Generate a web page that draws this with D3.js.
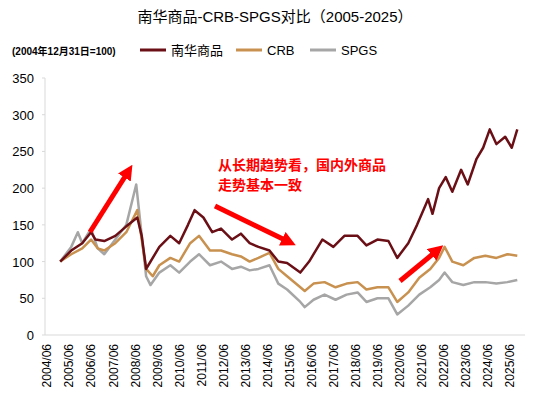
<!DOCTYPE html>
<html><head><meta charset="utf-8">
<script src="https://cdn.jsdelivr.net/npm/d3@7"></script>
<style>body{margin:0;background:#fff;font-family:"Liberation Sans",Arial,"Noto Sans CJK SC",sans-serif;}</style>
</head><body><svg id="c" width="550" height="409"></svg>
<script>
// year (decimal) / value
var nhYears = [2005,2005.5,2006,2006.4,2006.6,2007,2007.5,2008,2008.5,2008.7,2008.9,2009,2009.5,2010,2010.4,2010.8,2011.1,2011.5,2011.9,2012.3,2012.8,2013.2,2013.6,2014,2014.5,2014.9,2015.3,2015.9,2016.3,2016.9,2017.4,2017.9,2018.5,2018.9,2019.4,2019.9,2020.3,2020.8,2021.2,2021.7,2021.9,2022.2,2022.5,2022.8,2023.2,2023.5,2023.9,2024.2,2024.5,2024.8,2025.2,2025.5,2025.75];
var nhVals = [100,115,125,140,130,128,135,148,160,135,90,95,120,135,125,150,170,160,140,145,130,138,125,120,115,100,98,85,100,130,120,135,135,122,130,128,105,125,150,185,165,200,215,195,225,205,240,255,280,260,270,255,280];
var crbYears = [2005,2005.5,2006,2006.4,2006.7,2007,2007.5,2008,2008.5,2008.9,2009.2,2009.5,2010,2010.4,2010.9,2011.3,2011.8,2012.3,2012.8,2013.2,2013.6,2014,2014.5,2014.9,2015.3,2015.9,2016.1,2016.5,2017,2017.5,2018,2018.5,2018.9,2019.4,2019.9,2020.3,2020.8,2021.3,2021.8,2022.2,2022.45,2022.8,2023.3,2023.8,2024.3,2024.8,2025.3,2025.75];
var crbVals = [100,110,118,130,118,115,125,140,170,90,80,95,105,100,125,135,115,115,110,107,100,105,112,90,80,65,60,70,72,65,70,72,62,65,65,45,58,78,90,105,120,100,95,105,108,105,110,108];
var spYears = [2005,2005.5,2005.8,2006,2006.4,2006.7,2007,2007.5,2008,2008.45,2008.9,2009.1,2009.5,2010,2010.4,2010.9,2011.3,2011.8,2012.3,2012.8,2013.2,2013.6,2014,2014.5,2014.9,2015.3,2015.9,2016.1,2016.5,2017,2017.5,2018,2018.5,2018.9,2019.4,2019.9,2020.3,2020.8,2021.3,2021.8,2022.2,2022.45,2022.8,2023.3,2023.8,2024.3,2024.8,2025.3,2025.75];
var spVals = [100,120,140,125,145,118,110,130,150,205,80,68,85,95,85,100,110,95,100,90,93,88,90,95,70,62,45,38,48,55,48,55,58,45,50,50,28,40,55,65,75,85,72,68,72,72,70,72,75];
var tickYears = d3.range(2004, 2026);
var yTicks = [0,50,100,150,200,250,300,350];
var seriesNames = ["南华商品","CRB","SPGS"];
var seriesColors = ["#6b0f16","#c8914f","#a6a6a6"];

var svg = d3.select("#c");
var x = d3.scaleLinear().domain([2004.4, 2026.1]).range([47, 525]);
var y = d3.scaleLinear().domain([0, 350]).range([335, 78]);

svg.append("text").attr("x", 275).attr("y", 22).attr("text-anchor", "middle")
  .attr("font-size", 15).text("南华商品-CRB-SPGS对比（2005-2025）");
svg.append("text").attr("x", 12).attr("y", 55).attr("font-size", 10).attr("font-weight", "bold")
  .text("(2004年12月31日=100)");
var legX = [140, 236, 310];
seriesNames.forEach(function(n, i) {
  svg.append("line").attr("x1", legX[i]).attr("x2", legX[i] + 26).attr("y1", 50).attr("y2", 50)
    .attr("stroke", seriesColors[i]).attr("stroke-width", 3);
  svg.append("text").attr("x", legX[i] + 31).attr("y", 55).attr("font-size", 13).text(n);
});

// axes
svg.append("line").attr("x1", 45).attr("x2", 45).attr("y1", 78).attr("y2", 335).attr("stroke", "#d9d9d9");
svg.append("line").attr("x1", 45).attr("x2", 525).attr("y1", 335).attr("y2", 335).attr("stroke", "#d9d9d9");
yTicks.forEach(function(t) {
  svg.append("line").attr("x1", 42).attr("x2", 45).attr("y1", y(t)).attr("y2", y(t)).attr("stroke", "#d9d9d9");
  svg.append("text").attr("x", 34).attr("y", y(t) + 5).attr("text-anchor", "end").attr("font-size", 13).text(t);
});
tickYears.forEach(function(yr) {
  var px = x(yr + 0.42);
  svg.append("text").attr("transform", "translate(" + (px + 4) + ",344) rotate(-90)")
    .attr("text-anchor", "end").attr("font-size", 12).text(yr + "/06");
});

var line = d3.line().x(function(d) { return x(d[0]); }).y(function(d) { return y(d[1]); });
var data = [
  [spYears, spVals, seriesColors[2]],
  [crbYears, crbVals, seriesColors[1]],
  [nhYears, nhVals, seriesColors[0]]
];
data.forEach(function(s) {
  svg.append("path").datum(d3.zip(s[0], s[1])).attr("d", line)
    .attr("fill", "none").attr("stroke", s[2]).attr("stroke-width", 2.5).attr("stroke-linejoin", "round");
});

// annotation arrows
var defs = svg.append("defs");
defs.append("marker").attr("id", "ah").attr("viewBox", "0 0 10 10").attr("refX", 2).attr("refY", 5)
  .attr("markerWidth", 3).attr("markerHeight", 3).attr("orient", "auto")
  .append("path").attr("d", "M0,0L10,5L0,10Z").attr("fill", "#ff0000");
[[90, 232, 126, 175], [215, 206, 285, 240], [400, 281, 434, 253]].forEach(function(a) {
  svg.append("line").attr("x1", a[0]).attr("y1", a[1]).attr("x2", a[2]).attr("y2", a[3])
    .attr("stroke", "#ff0000").attr("stroke-width", 5).attr("marker-end", "url(#ah)");
});
svg.append("text").attr("x", 218).attr("y", 170).attr("fill", "#ff0000").attr("font-size", 14)
  .attr("font-weight", "bold").text("从长期趋势看，国内外商品");
svg.append("text").attr("x", 218).attr("y", 190).attr("fill", "#ff0000").attr("font-size", 14)
  .attr("font-weight", "bold").text("走势基本一致");
</script></body></html>
